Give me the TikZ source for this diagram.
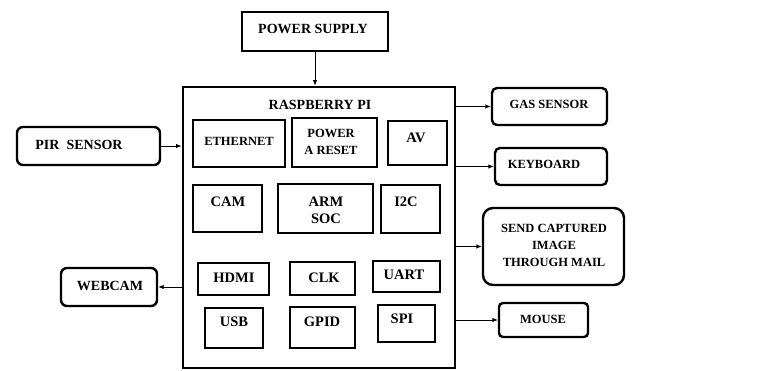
\documentclass[tikz,border=0pt]{standalone}
\usepackage{fontspec}
\setmainfont{Liberation Serif}
\usetikzlibrary{arrows.meta}
\tikzset{
  inbox/.style={draw, line width=2.8pt, inner sep=0pt, rectangle},
  pibox/.style={draw, line width=2.8pt, inner sep=0pt, rectangle},
  extbox/.style={draw, line width=2.4pt, rounded corners=6pt, inner sep=0pt},
  lbl/.style={font=\bfseries\fontsize{12.5}{17}\selectfont, align=center, inner sep=0pt},
  midlbl/.style={font=\bfseries\fontsize{14.5}{17}\selectfont, align=center, inner sep=0pt},
  biglbl/.style={font=\bfseries\fontsize{14}{17}\selectfont, align=center, inner sep=0pt},
  arr/.style={line width=0.9pt, -{Latex[length=5.5pt,width=4.5pt]}},
}
% style, name, x1, y1, x2, y2
\newcommand\bx[6]{%
  \node[#1, minimum width={(#5-#3)*1pt}, minimum height={(#6-#4)*1pt}] (#2) at ({(#3+#5)/2},{(#4+#6)/2}) {};}
\begin{document}
\begin{tikzpicture}[x=1pt,y=-1pt]
\useasboundingbox (0,0) rectangle (765,370);

% main boxes
\bx{inbox}{ps}{242}{12}{388}{51}
\node[biglbl] (psT) at (313,29) {POWER SUPPLY};

\bx{pibox}{pi}{183}{87}{455}{368}
\node[biglbl] (piT) at (320,105) {RASPBERRY PI};

% inner blocks
\bx{inbox}{eth}{193}{120}{285}{167}
\node[lbl] (ethT) at (239,141) {ETHERNET};
\bx{inbox}{pwr}{292}{118}{377}{167}
\node[lbl] (pwrT) at (331,141.5) {POWER\\A RESET};
\bx{inbox}{av}{388}{121}{447}{165}
\node[midlbl] (avT) at (416,138) {AV};

\bx{inbox}{cam}{193}{185}{262}{232}
\node[midlbl] (camT) at (228,202) {CAM};
\bx{inbox}{arm}{278}{184}{373}{233}
\node[midlbl] (armT) at (326,210) {ARM\\SOC};
\bx{inbox}{itc}{381}{185}{440}{233}
\node[midlbl] (itcT) at (406,202) {I2C};

\bx{inbox}{hdmi}{198}{263}{269}{295}
\node[midlbl] (hdmiT) at (234,278) {HDMI};
\bx{inbox}{clk}{290}{262}{355}{295}
\node[midlbl] (clkT) at (324,278) {CLK};
\bx{inbox}{uart}{373}{261}{440}{292}
\node[midlbl] (uartT) at (404,275) {UART};

\bx{inbox}{usb}{205}{308}{263}{348}
\node[midlbl] (usbT) at (234,322) {USB};
\bx{inbox}{gpid}{290}{307}{355}{348}
\node[midlbl] (gpidT) at (322,322) {GPID};
\bx{inbox}{spi}{378}{305}{435}{342}
\node[midlbl] (spiT) at (402,319) {SPI};

% external blocks
\bx{extbox}{pir}{17}{127}{160}{165}
\node[biglbl] (pirT) at (79,145) {PIR\ \ SENSOR};
\bx{extbox}{web}{61}{268}{157}{306}
\node[biglbl] (webT) at (110,286) {WEBCAM};
\bx{extbox, rounded corners=5pt}{gas}{492}{88}{607}{125}
\node[lbl] (gasT) at (549,104) {GAS SENSOR};
\bx{extbox, rounded corners=5pt}{kbd}{495}{148}{607}{185}
\node[lbl] (kbdT) at (544,164) {KEYBOARD};
\bx{extbox, rounded corners=10pt}{mail}{483}{208}{624}{285}
\node[lbl] (mailT) at (554,245) {SEND CAPTURED\\IMAGE\\THROUGH MAIL};
\bx{extbox, rounded corners=4pt}{mouse}{499}{303}{588}{337}
\node[lbl] (mouseT) at (543,319) {MOUSE};

% connectors
\draw[arr] (ps.south) -- (ps.south |- pi.north);
\draw[arr] (pir.east) -- (pir.east -| pi.west);
\draw[arr] (web.east -| pi.west) -- (web.east);
\draw[arr] (gas.west -| pi.east) -- (gas.west);
\draw[arr] (kbd.west -| pi.east) -- (kbd.west);
\draw[arr] (mail.west -| pi.east) -- (mail.west);
\draw[arr] (mouse.west -| pi.east) -- (mouse.west);
\end{tikzpicture}
\end{document}
